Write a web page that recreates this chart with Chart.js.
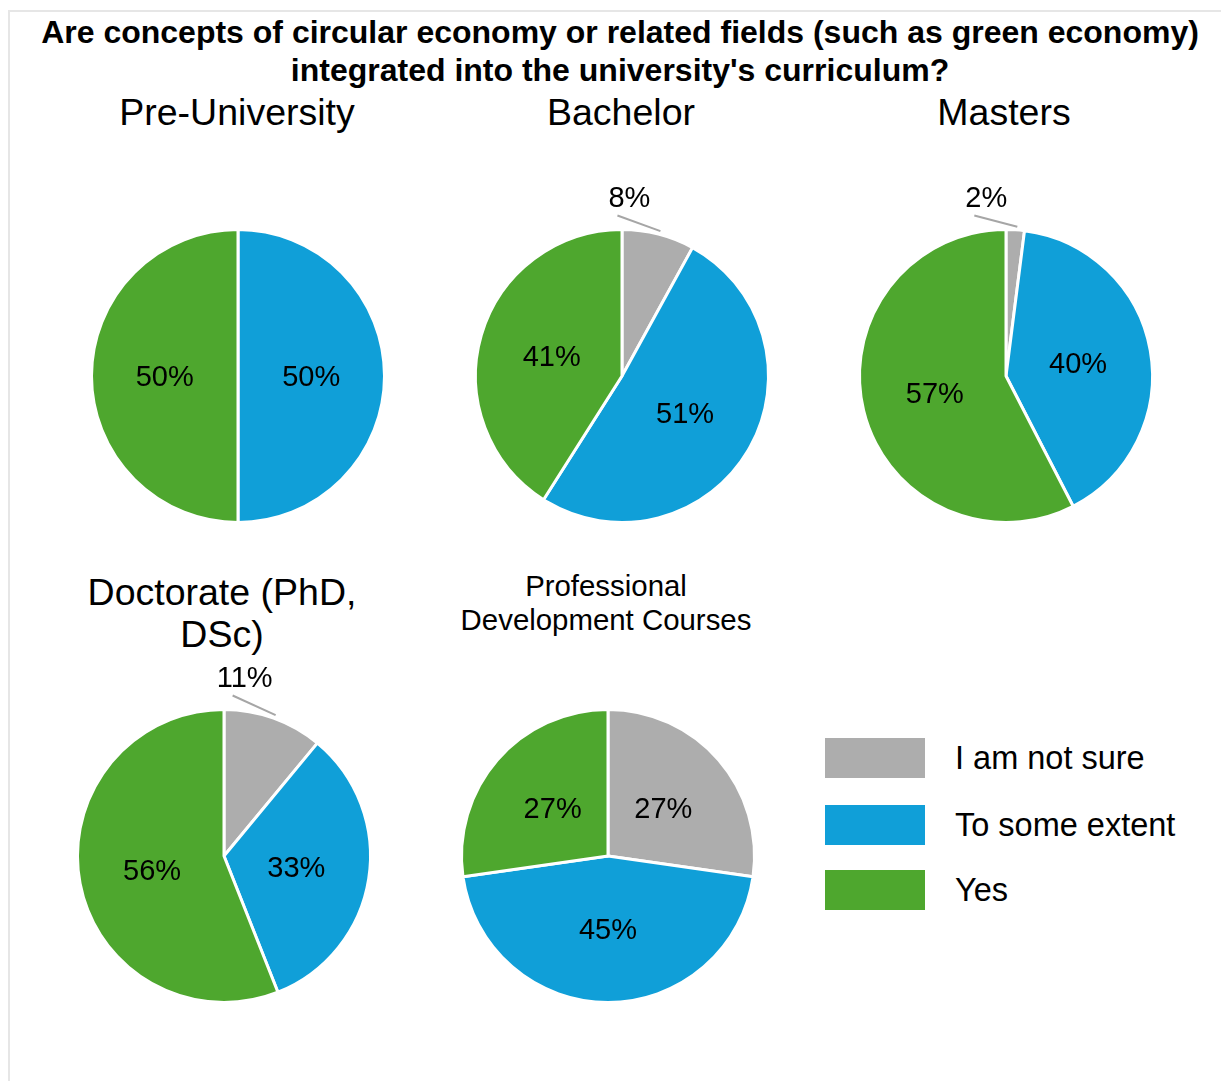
<!DOCTYPE html>
<html>
<head>
<meta charset="utf-8">
<script src="https://cdn.jsdelivr.net/npm/chart.js@4.4.0/dist/chart.umd.min.js"></script>
<style>
  body { margin: 0; background: #fff; font-family: "Liberation Sans", Arial, sans-serif; }
  #page { position: relative; width: 1221px; height: 1081px; overflow: hidden; }
  #frame { position: absolute; left: 8px; top: 10px; right: -5px; bottom: -5px; border-top: 2px solid #e6e6e6; border-left: 2px solid #e6e6e6; }
  .txt { position: absolute; text-align: center; color: #000; white-space: nowrap; }
  .pie { position: absolute; width: 400px; height: 400px; }
  .legItem { position: absolute; left: 825px; height: 40px; }
  .legItem span.box { position: absolute; left: 0; top: 0; width: 100px; height: 40px; }
  .legItem span.lab { position: absolute; left: 130px; top: 0; line-height: 40px; font-size: 32.5px; white-space: nowrap; }
</style>
</head>
<body>
<div id="page">
  <div id="frame"></div>
  <div class="txt" style="left:20px; width:1200px; top:13px; font-size:32px; font-weight:bold; line-height:38px;">
    Are concepts of circular economy or related fields (such as green economy)<br>integrated into the university's curriculum?
  </div>
</div>

<script>
// categories and colours
let categories = ["I am not sure", "To some extent", "Yes"];
let colors = ["#adadad", "#109fd8", "#4ea72e"];

// percentages per group (order: not sure, some extent, yes)
let preUniversity = [0, 50, 50];
let bachelor = [8, 51, 41];
let masters = [2, 40, 57];
let doctorate = [11, 33, 56];
let professional = [27, 45, 27];

let page = document.getElementById("page");

// draw the percent labels, small slices get an outside label with a leader line
let pctLabels = {
    id: "pctLabels",
    afterDatasetsDraw(chart) {
        let ctx = chart.ctx;
        let meta = chart.getDatasetMeta(0);
        let data = chart.data.datasets[0].data;
        ctx.save();
        ctx.font = '29px "Liberation Sans", Arial, sans-serif';
        ctx.fillStyle = "#000";
        ctx.textAlign = "center";
        ctx.textBaseline = "middle";
        meta.data.forEach((arc, i) => {
            let v = data[i];
            if (!v) return;
            let p = arc.getProps(["x", "y", "startAngle", "endAngle", "outerRadius"], true);
            let mid = (p.startAngle + p.endAngle) / 2;
            let txt = v + "%";
            if (v < 15) {
                let ex = p.x + Math.cos(mid) * p.outerRadius;
                let ey = p.y + Math.sin(mid) * p.outerRadius;
                let lx = ex - 29;
                let ly = p.y - p.outerRadius - 31;
                ctx.strokeStyle = "#a6a6a6";
                ctx.lineWidth = 2;
                ctx.beginPath();
                ctx.moveTo(lx - 12, ly + 17);
                ctx.lineTo(ex + 2, ey - 3);
                ctx.stroke();
                ctx.fillText(txt, lx, ly);
            } else {
                ctx.fillText(txt, p.x + Math.cos(mid) * p.outerRadius / 2, p.y + Math.sin(mid) * p.outerRadius / 2 + 2);
            }
        });
        ctx.restore();
    }
};

let makePie = (values, cx, cy) => {
    let canvas = document.createElement("canvas");
    canvas.className = "pie";
    canvas.style.left = (cx - 200) + "px";
    canvas.style.top = (cy - 200) + "px";
    canvas.width = 400;
    canvas.height = 400;
    page.appendChild(canvas);
    return new Chart(canvas.getContext("2d"), {
        type: "pie",
        data: {
            labels: categories,
            datasets: [{
                data: values,
                backgroundColor: colors,
                borderColor: "#ffffff",
                borderWidth: 3
            }]
        },
        options: {
            responsive: false,
            animation: false,
            layout: { padding: 52 },
            plugins: {
                legend: { display: false },
                tooltip: { enabled: false }
            }
        },
        plugins: [pctLabels]
    });
};

let addText = (html, cx, top, size, lh) => {
    let d = document.createElement("div");
    d.className = "txt";
    d.style.left = (cx - 250) + "px";
    d.style.width = "500px";
    d.style.top = top + "px";
    d.style.fontSize = size + "px";
    d.style.lineHeight = lh + "px";
    d.innerHTML = html;
    page.appendChild(d);
};

addText("Pre-University", 237, 91, 37.5, 42);
addText("Bachelor", 621, 91, 37.5, 42);
addText("Masters", 1004, 91, 37.5, 42);
addText("Doctorate (PhD,<br>DSc)", 222, 571, 37.5, 42);
addText("Professional<br>Development Courses", 606, 569, 29.4, 34);

makePie(preUniversity, 238, 376);
makePie(bachelor, 622, 376);
makePie(masters, 1006, 376);
makePie(doctorate, 224, 856);
makePie(professional, 608, 856);

// legend
let legTops = [738, 805, 870];
categories.forEach((c, i) => {
    let item = document.createElement("div");
    item.className = "legItem";
    item.style.top = legTops[i] + "px";
    item.innerHTML = '<span class="box" style="background:' + colors[i] + '"></span><span class="lab">' + c + '</span>';
    page.appendChild(item);
});
</script>
</body>
</html>
